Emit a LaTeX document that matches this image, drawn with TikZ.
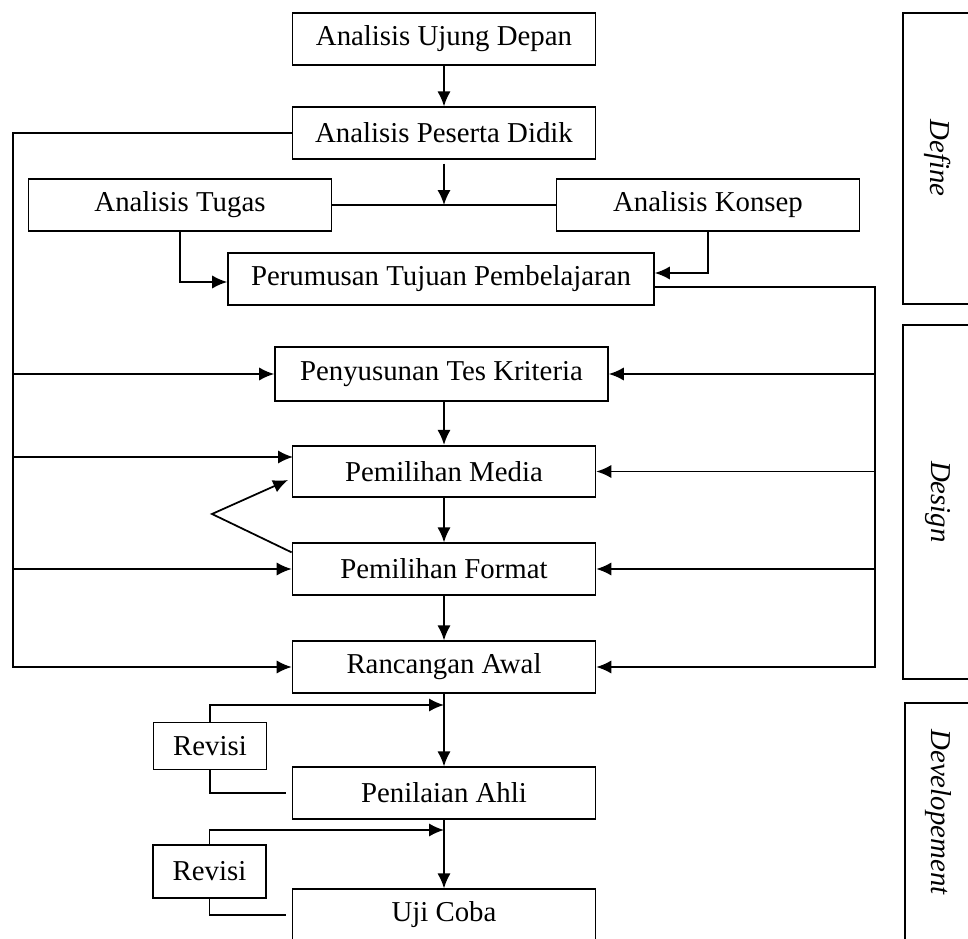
\documentclass[tikz,border=0pt]{standalone}
\usepackage{fontspec}
\setmainfont{Liberation Serif}
\usetikzlibrary{arrows.meta}

\begin{document}
\begin{tikzpicture}
  [x=0.02cm, y=-0.02cm, line width=1pt,
   box/.style={draw, minimum width=6.06cm, minimum height=1.03cm, inner sep=0,
     font=\fontsize{16.4}{19}\selectfont},
   conn/.style={-{Latex[length=8.5pt,width=7.5pt]}},
   phase/.style={rotate=-90, font=\fontsize{16.4}{19}\selectfont\itshape}]
  \useasboundingbox (0,0) rectangle (968,939);

  % define
  \node[box] (ujung) at (444,39) {Analisis Ujung Depan};
  \node[box] (peserta) at (444,133) {Analisis Peserta Didik};
  \node[box] (tugas) at (180,205) {Analisis Tugas};
  \node[box] (konsep) at (708,205) {Analisis Konsep};
  \node[box, minimum width=8.52cm] (tujuan) at (441,279) {Perumusan Tujuan Pembelajaran};
  \draw[conn] (ujung) -- (peserta);
  \draw (tugas) -- (konsep);
  \draw[conn] ([yshift=-0.08cm]peserta.south) -- (peserta.south |- tugas.east);
  \draw[conn] (tugas.south) |- ([yshift=-0.06cm]tujuan.west);
  \draw[conn] (konsep.south) |- ([yshift=0.12cm]tujuan.east);

  % design
  \node[box, minimum width=6.66cm, minimum height=1.08cm] (tes) at (441.5,374) {Penyusunan Tes Kriteria};
  \node[box] (media) at (444,471.5) {Pemilihan Media};
  \node[box] (format) at (444,569) {Pemilihan Format};
  \node[box] (rancangan) at (444,667) {Rancangan Awal};
  \draw[conn] (tes.south -| media) -- (media);
  \draw[conn] (media) -- (format);
  \draw[conn] (format) -- (rancangan);

  \coordinate (ll) at (13,667);
  \coordinate (rr) at (875,667);
  \coordinate (mediain) at (293,457);
  \draw[conn] (peserta.west) -| (ll) -- (rancangan.west);
  \draw[conn] (ll |- mediain) -- (mediain);
  \foreach \n in {tes, format}
    \draw[conn] (ll |- \n.west) -- (\n.west);
  \draw[conn] ([yshift=-0.16cm]tujuan.east) -| (rr) -- (rancangan.east);
  \foreach \n in {tes, media, format}
    \draw[conn] (rr |- \n.east) -- (\n.east);

  \coordinate (apex) at (212,514);
  \coordinate (vtip) at (288,480);
  \draw[conn] ([yshift=-0.2cm]format.north west) -- (apex) -- (vtip);

  % development
  \node[box] (penilaian) at (444,793) {Penilaian Ahli};
  \node[box] (ujicoba) at (444,915) {Uji Coba};
  \node[box, minimum width=2.26cm, minimum height=0.94cm] (revisiA) at (210,746) {Revisi};
  \node[box, minimum width=2.26cm, minimum height=1.06cm] (revisiB) at (209.5,871.5) {Revisi};
  \draw[conn] (rancangan) -- (penilaian);
  \draw[conn] (penilaian) -- (ujicoba);
  \coordinate (jA) at (444,705);
  \coordinate (jB) at (444,830);
  \draw[conn] (revisiA.north) |- (jA);
  \draw (revisiA.south) |- ([xshift=-0.12cm]penilaian.west);
  \draw[conn] (revisiB.north) |- (jB);
  \draw (revisiB.south) |- ([xshift=-0.12cm]ujicoba.west);

  % phases
  \draw (903,13) rectangle (1010,304);
  \draw (903,325) rectangle (1010,679);
  \draw (905,703) rectangle (1010,980);
  \node[phase] (define) at (938,158) {Define};
  \node[phase] (design) at (938,502) {Design};
  \node[phase] (develop) at (938,812) {Developement};
\end{tikzpicture}
\end{document}
